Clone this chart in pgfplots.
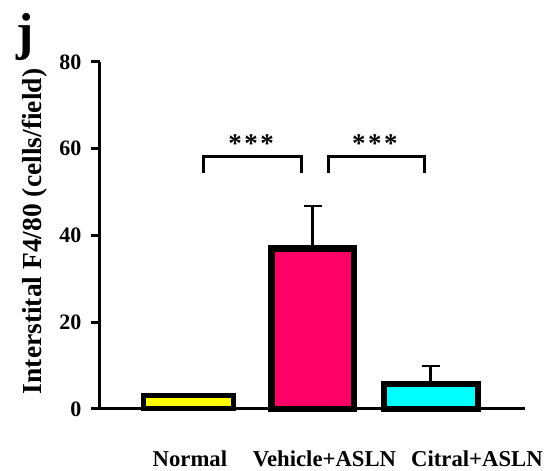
\documentclass[border=0pt]{standalone}
\usepackage{pgfplots}
\pgfplotsset{compat=1.18}
\usepackage{fontspec}
\setmainfont{Liberation Serif}
\definecolor{barpink}{RGB}{255,0,102}
\definecolor{baryellow}{RGB}{255,255,0}
\definecolor{barcyan}{RGB}{0,255,255}
\begin{document}
\begin{tikzpicture}
\begin{axis}[
  scale only axis,
  width=425pt, height=347pt,
  xmin=0.269, xmax=3.779,
  ymin=0, ymax=80,
  axis lines=left,
  axis line style={-, line width=3pt, black},
  clip=false,
  ytick={0,20,40,60,80},
  tick align=outside,
  major tick length=9pt,
  ytick style={line width=3pt, black},
  xtick={1.012,2.123,3.383},
  xticklabels={Normal, Vehicle+ASLN, Citral+ASLN},
  xtick style={draw=none},
  xticklabel style={anchor=base, yshift=-49pt, font=\fontsize{22.7}{22.7}\selectfont\bfseries},
  yticklabel style={anchor=east, xshift=-6pt, font=\fontsize{22}{22}\selectfont\bfseries},
  /pgf/number format/assume math mode=true,
  ylabel={Interstital F4/80 (cells/field)},
  every axis y label/.style={at={(axis description cs:0,0.5)}, rotate=90, anchor=center, yshift=65pt, xshift=4pt, font=\fontsize{27.5}{27.5}\selectfont\bfseries},
  ybar, bar shift=0pt,
]
\addplot[ybar, bar width=90pt, fill=baryellow, draw=black, line width=5pt] coordinates {(1,3.0)};
\addplot[ybar, bar width=82.5pt, fill=barpink, draw=black, line width=6.5pt,
  error bars/y dir=plus, error bars/y explicit,
  error bars/error bar style={line width=2.5pt, black},
  error bars/error mark options={line width=2.5pt, mark size=9pt, black, rotate=90}]
  coordinates {(2.025,37.0) +- (0,9.8)};
\addplot[ybar, bar width=94pt, fill=barcyan, draw=black, line width=6pt,
  error bars/y dir=plus, error bars/y explicit,
  error bars/error bar style={line width=2.5pt, black},
  error bars/error mark options={line width=2.5pt, mark size=9pt, black, rotate=90}]
  coordinates {(3,5.8) +- (0,4.1)};
\draw[line width=3pt, black] (axis cs:1.128,54.5) -- (axis cs:1.128,58.3) -- (axis cs:1.93,58.3) -- (axis cs:1.93,54.5);
\draw[line width=3pt, black] (axis cs:2.153,54.5) -- (axis cs:2.153,58.3) -- (axis cs:2.953,58.3) -- (axis cs:2.953,54.5);
\node[anchor=center, font=\fontsize{27}{27}\selectfont\bfseries] at (axis cs:1.518,61.2) {*\hspace{2.5pt}*\hspace{2.5pt}*};
\node[anchor=center, font=\fontsize{27}{27}\selectfont\bfseries] at (axis cs:2.54,61.2) {*\hspace{2.5pt}*\hspace{2.5pt}*};
\node[anchor=base, font=\fontsize{52}{52}\selectfont\bfseries] at (rel axis cs:-0.176,1.037) {j};
\end{axis}
\path (current axis.south west) ++(-100pt,-57pt) rectangle ++(546pt,466pt);
\end{tikzpicture}
\end{document}
